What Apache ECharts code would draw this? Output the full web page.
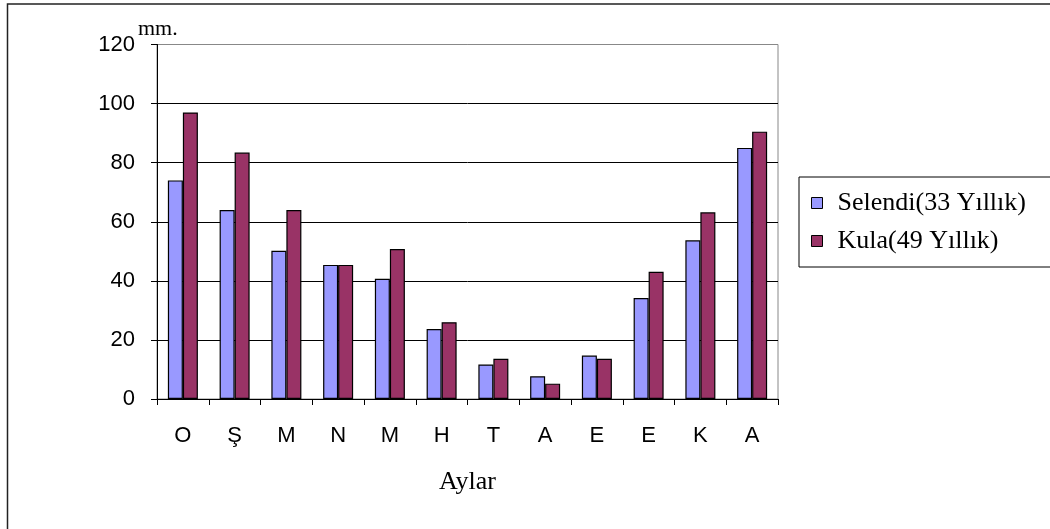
<!DOCTYPE html>
<html>
<head>
<meta charset="utf-8">
<script src="https://cdn.jsdelivr.net/npm/echarts@6/dist/echarts.min.js"></script>
<style>
html,body{margin:0;padding:0;background:#fff;}
#chart{width:1050px;height:529px;}
</style>
</head>
<body>
<div id="chart"></div>
<script>
var categories = ['O', 'Ş', 'M', 'N', 'M', 'H', 'T', 'A', 'E', 'E', 'K', 'A'];
var seriesNames = ['Selendi(33 Yıllık)', 'Kula(49 Yıllık)'];
var selendi = [74, 64, 50.2, 45.4, 40.7, 23.7, 11.7, 7.7, 14.7, 34.2, 53.7, 85];
var kula = [97, 83.4, 64, 45.4, 50.8, 26, 13.6, 5.2, 13.6, 43.1, 63.2, 90.5];
var yTicks = { min: 0, max: 120, interval: 20 };
var yAxisName = 'mm.';
var xAxisName = 'Aylar';

var chart = echarts.init(document.getElementById('chart'), null, { renderer: 'canvas' });
var sans = '"Liberation Sans", Arial, sans-serif';
var serif = '"Liberation Serif", "Times New Roman", serif';

chart.setOption({
  animation: false,
  backgroundColor: '#fff',
  grid: {
    left: 157, right: 272, top: 44.5, bottom: 130,
    show: true, borderColor: '#888', borderWidth: 1, backgroundColor: 'transparent'
  },
  legend: {
    orient: 'vertical',
    left: 799, top: 177,
    padding: [13, 40, 13, 12],
    itemGap: 12,
    itemWidth: 11, itemHeight: 11,
    borderColor: '#000', borderWidth: 1,
    icon: 'rect',
    itemStyle: { borderColor: '#000', borderWidth: 1 },
    textStyle: { fontFamily: serif, fontSize: 26, color: '#000', padding: [0, 0, 0, 10] },
    data: seriesNames
  },
  xAxis: {
    type: 'category',
    data: categories,
    name: xAxisName,
    nameLocation: 'middle',
    nameGap: 70,
    nameMoveOverlap: false,
    nameTextStyle: { fontFamily: serif, fontSize: 26, color: '#000' },
    axisLine: { lineStyle: { color: '#000', width: 1 } },
    axisTick: { show: true, inside: false, length: 6, alignWithLabel: false, lineStyle: { color: '#000' } },
    axisLabel: { fontFamily: sans, fontSize: 22, color: '#000', margin: 26 },
    splitLine: { show: false }
  },
  yAxis: {
    type: 'value',
    min: yTicks.min, max: yTicks.max, interval: yTicks.interval,
    name: yAxisName,
    nameLocation: 'end',
    nameGap: 15,
    nameMoveOverlap: false,
    nameTextStyle: { fontFamily: serif, fontSize: 22, color: '#000', align: 'left', verticalAlign: 'middle', padding: [0, 0, 0, -19] },
    axisLine: { show: true, lineStyle: { color: '#000', width: 1 } },
    axisTick: { show: true, inside: false, length: 6, lineStyle: { color: '#000' } },
    axisLabel: { fontFamily: sans, fontSize: 22, color: '#000', margin: 22 },
    splitLine: { show: true, lineStyle: { color: ['#000', '#000', '#000', '#000', '#000', '#000', '#888'], width: 1 } }
  },
  series: [
    {
      name: seriesNames[0], type: 'bar', data: selendi,
      barGap: '0%', barCategoryGap: '42%',
      itemStyle: { color: '#9999FF', borderColor: '#000', borderWidth: 1.2 }
    },
    {
      name: seriesNames[1], type: 'bar', data: kula,
      barGap: '0%', barCategoryGap: '42%',
      itemStyle: { color: '#993366', borderColor: '#000', borderWidth: 1.2 }
    }
  ],
  graphic: [
    {
      type: 'rect', silent: true, z: 100,
      shape: { x: 7.5, y: 4, width: 1100, height: 600 },
      style: { fill: 'none', stroke: '#222', lineWidth: 1.5 }
    }
  ]
});
</script>
</body>
</html>
